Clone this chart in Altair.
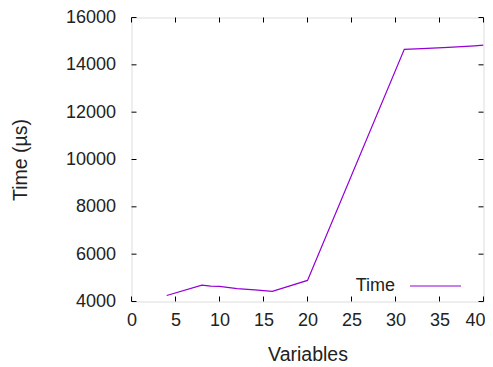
import altair as alt
import pandas as pd

variables = [4, 8, 9, 10, 12, 14, 16, 20, 31, 33, 36, 39, 40]
times = [4254, 4695, 4650, 4635, 4540, 4495, 4425, 4890, 14655, 14685, 14736, 14804, 14833]
series = ["Time"] * len(variables)

x_ticks = [0, 5, 10, 15, 20, 25, 30, 35, 40]
y_ticks = [4000, 6000, 8000, 10000, 12000, 14000, 16000]
legend_labels = ["Time"]

FONT = "Liberation Sans"
FS = 18
FS_TITLE = 19.5
FS_LEG = 18
PURPLE = "#9400D3"
TXT = "#222222"

df = pd.DataFrame({"Variables": variables, "Time": times, "series": series})
xt = pd.DataFrame({"v": x_ticks})
yt = pd.DataFrame({"v": y_ticks})
lg = pd.DataFrame({"label": legend_labels})

xscale = alt.Scale(domain=[0, 40], nice=False, zero=False)
yscale = alt.Scale(domain=[4000, 16000], nice=False, zero=False)

W, H = 352, 284
TICK = 5

x_label_align = {"condition": {"test": "datum.value >= 40", "value": "right"},
                 "value": "center"}
x_label_offset = {"condition": {"test": "datum.value >= 40", "value": 1.5},
                  "value": 0}

line = alt.Chart(df).mark_line(strokeWidth=1.2, clip=True).encode(
    x=alt.X("Variables:Q", scale=xscale,
            axis=alt.Axis(values=x_ticks, format="d", title="Variables", grid=False,
                          domain=False, ticks=False, tickSize=0, labelPadding=10,
                          labelFontSize=FS, labelFont=FONT, labelColor=TXT,
                          labelAlign=x_label_align, labelOffset=x_label_offset,
                          titleFont=FONT, titleFontSize=FS_TITLE, titleFontWeight="normal",
                          titleColor=TXT, titlePadding=16, labelFlush=False)),
    y=alt.Y("Time:Q", scale=yscale,
            axis=alt.Axis(values=y_ticks, format="d", title="Time (µs)", grid=False,
                          domain=False, ticks=False, tickSize=0, labelPadding=16,
                          labelFontSize=FS, labelFont=FONT, labelColor=TXT,
                          titleFont=FONT, titleFontSize=FS_TITLE, titleFontWeight="normal",
                          titleColor=TXT, titlePadding=35, labelFlush=False)),
    color=alt.Color("series:N", scale=alt.Scale(range=[PURPLE]), legend=None),
)

legend_text = alt.Chart(lg).mark_text(align="right", baseline="middle", font=FONT,
                                      fontSize=FS_LEG, color=TXT).encode(
    text="label:N", x=alt.value(263.5), y=alt.value(268))
legend_line = alt.Chart(lg).mark_rule(color=PURPLE, strokeWidth=1.2).encode(
    x=alt.value(278.5), x2=alt.value(329.5), y=alt.value(268.5))

bottom_ticks = alt.Chart(xt).mark_rule(color="black", strokeWidth=1).encode(
    x=alt.X("v:Q", scale=xscale), y=alt.value(H), y2=alt.value(H - TICK))
top_ticks = alt.Chart(xt).mark_rule(color="black", strokeWidth=1).encode(
    x=alt.X("v:Q", scale=xscale), y=alt.value(0), y2=alt.value(TICK))
left_ticks = alt.Chart(yt).mark_rule(color="black", strokeWidth=1).encode(
    y=alt.Y("v:Q", scale=yscale), x=alt.value(0), x2=alt.value(TICK))
right_ticks = alt.Chart(yt).mark_rule(color="black", strokeWidth=1).encode(
    y=alt.Y("v:Q", scale=yscale), x=alt.value(W), x2=alt.value(W - TICK))

chart = alt.layer(line, bottom_ticks, top_ticks, left_ticks, right_ticks,
                  legend_text, legend_line).properties(
    width=W, height=H,
    autosize=alt.AutoSizeParams(type="none"),
    padding={"left": 123.5, "top": 9.5, "right": 1.5, "bottom": 65},
).configure_view(stroke="black", strokeWidth=1.2).configure(background="white")

chart.save("out.html", embed_options={"renderer": "svg", "actions": False})
